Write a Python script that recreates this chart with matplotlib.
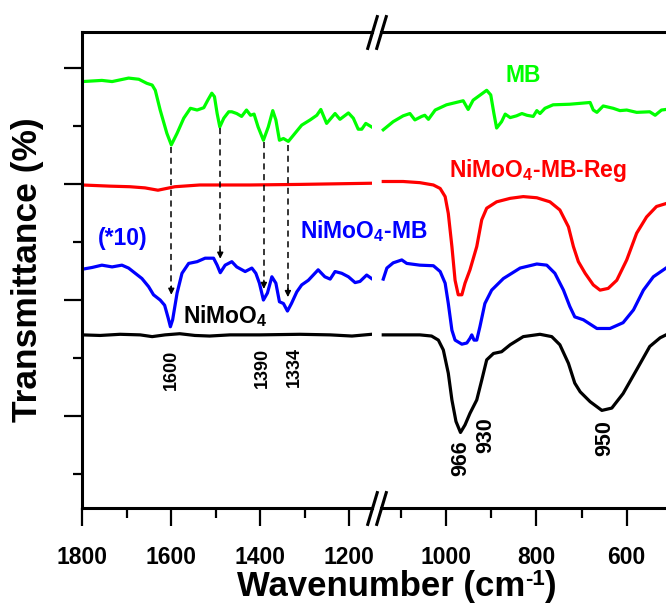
import numpy as np
import matplotlib
matplotlib.use("Agg")
import matplotlib.pyplot as plt
import matplotlib.ticker as ticker

plt.rcParams['font.family'] = ['Liberation Sans', 'DejaVu Sans']
plt.rcParams['mathtext.fontset'] = 'custom'
plt.rcParams['mathtext.rm'] = 'Liberation Sans:bold'
plt.rcParams['mathtext.it'] = 'Liberation Sans:bold'
plt.rcParams['mathtext.bf'] = 'Liberation Sans:bold'

W, H, DPI = 666, 603, 100

# ── data (wavenumber cm-1, stacked transmittance, arbitrary units) ──
# left part: 1800 - 1150
mb_wn_l = [1800, 1756, 1733, 1696, 1673, 1655, 1643, 1636, 1625, 1610, 1600, 1587,
           1572, 1557, 1542, 1527, 1518, 1509, 1503, 1497, 1491, 1482, 1471, 1464,
           1453, 1442, 1431, 1422, 1414, 1405, 1393, 1382, 1372, 1365, 1357, 1348,
           1337, 1322, 1307, 1288, 1273, 1264, 1251, 1232, 1221, 1202, 1191, 1180,
           1172, 1163, 1150]
mb_t_l = [6.76, 6.78, 6.76, 6.82, 6.80, 6.73, 6.70, 6.61, 6.27, 5.87, 5.67, 5.87,
          6.13, 6.30, 6.27, 6.31, 6.44, 6.56, 6.50, 6.21, 5.98, 6.13, 6.24, 6.24,
          6.21, 6.16, 6.27, 6.18, 6.20, 5.98, 5.75, 5.98, 6.26, 6.10, 5.75, 5.78,
          5.73, 5.87, 6.01, 6.10, 6.18, 6.28, 6.04, 6.21, 6.11, 6.22, 6.13, 5.94,
          5.94, 6.04, 5.98]

reg_wn_l = [1800, 1738, 1693, 1659, 1630, 1592, 1536, 1423, 1311, 1150]
reg_t_l = [4.98, 4.96, 4.95, 4.93, 4.89, 4.95, 4.98, 4.98, 4.99, 5.01]

mbn_wn_l = [1800, 1778, 1756, 1733, 1711, 1696, 1681, 1666, 1651, 1640, 1625, 1615,
            1607, 1602, 1597, 1587, 1576, 1561, 1542, 1524, 1505, 1497, 1490, 1479,
            1464, 1453, 1434, 1419, 1410, 1402, 1393, 1384, 1374, 1365, 1357, 1348,
            1339, 1330, 1318, 1307, 1292, 1281, 1270, 1255, 1243, 1232, 1217, 1202,
            1187, 1176, 1161, 1150]
mbn_t_l = [3.53, 3.56, 3.60, 3.57, 3.60, 3.55, 3.46, 3.37, 3.23, 3.09, 3.00, 2.91,
           2.69, 2.54, 2.66, 3.12, 3.46, 3.63, 3.66, 3.72, 3.72, 3.60, 3.47, 3.60,
           3.66, 3.57, 3.49, 3.55, 3.46, 3.29, 3.00, 3.12, 3.40, 3.29, 2.97, 2.94,
           2.81, 2.94, 3.14, 3.26, 3.34, 3.43, 3.52, 3.40, 3.36, 3.49, 3.46, 3.40,
           3.30, 3.32, 3.43, 3.37]

ni_wn_l = [1800, 1760, 1715, 1670, 1643, 1614, 1581, 1547, 1514, 1468, 1401, 1311,
           1243, 1194, 1150]
ni_t_l = [2.40, 2.39, 2.41, 2.40, 2.37, 2.40, 2.42, 2.39, 2.38, 2.40, 2.40, 2.41,
          2.40, 2.38, 2.41]

# right part: 1140 - 513
mb_wn_r = [1139, 1117, 1095, 1080, 1069, 1054, 1047, 1039, 1024, 999, 962, 951,
           940, 910, 901, 894, 888, 877, 869, 858, 844, 832, 821, 807, 799, 792,
           781, 763, 726, 681, 674, 666, 652, 630, 615, 600, 578, 549, 537, 523, 513]
mb_t_r = [5.93, 6.07, 6.17, 6.21, 6.10, 6.16, 6.18, 6.11, 6.27, 6.36, 6.43, 6.28,
          6.44, 6.61, 6.53, 6.21, 5.96, 6.07, 6.20, 6.14, 6.17, 6.21, 6.18, 6.16,
          6.26, 6.21, 6.30, 6.36, 6.37, 6.40, 6.27, 6.23, 6.34, 6.30, 6.26, 6.27,
          6.23, 6.24, 6.18, 6.27, 6.28]

reg_wn_r = [1139, 1095, 1058, 1028, 1013, 1002, 995, 987, 980, 973, 965, 958, 947,
            932, 921, 910, 888, 858, 829, 799, 770, 748, 729, 718, 707, 692, 674,
            659, 641, 622, 600, 578, 556, 534, 513]
reg_t_r = [5.04, 5.04, 5.02, 4.98, 4.92, 4.78, 4.49, 3.92, 3.34, 3.09, 3.09, 3.29,
           3.52, 3.92, 4.38, 4.58, 4.69, 4.75, 4.78, 4.76, 4.69, 4.55, 4.26, 3.92,
           3.66, 3.46, 3.26, 3.17, 3.20, 3.34, 3.69, 4.15, 4.43, 4.61, 4.66]

mbn_wn_r = [1139, 1131, 1117, 1098, 1087, 1058, 1028, 1013, 1002, 995, 987, 980,
            965, 954, 947, 943, 938, 932, 925, 914, 899, 873, 836, 799, 777, 759,
            740, 726, 715, 696, 666, 637, 608, 585, 563, 541, 513]
mbn_t_r = [3.36, 3.55, 3.64, 3.69, 3.63, 3.60, 3.59, 3.49, 3.29, 2.94, 2.48, 2.31,
           2.24, 2.26, 2.34, 2.40, 2.31, 2.31, 2.54, 2.94, 3.17, 3.37, 3.55, 3.62,
           3.60, 3.46, 3.17, 2.89, 2.71, 2.66, 2.51, 2.51, 2.61, 2.83, 3.17, 3.40,
           3.55]

ni_wn_r = [1139, 1058, 1032, 1017, 1006, 995, 987, 978, 968, 958, 947, 932, 921,
           910, 895, 877, 858, 829, 792, 766, 748, 729, 715, 703, 681, 655, 633,
           608, 578, 549, 526, 513]
ni_t_r = [2.40, 2.40, 2.38, 2.31, 2.14, 1.74, 1.28, 0.91, 0.72, 0.85, 1.05, 1.28,
          1.62, 1.97, 2.08, 2.11, 2.23, 2.37, 2.41, 2.37, 2.23, 1.91, 1.57, 1.42,
          1.25, 1.10, 1.14, 1.39, 1.80, 2.20, 2.35, 2.40]

# arrows MB -> NiMoO4-MB (wavenumber, start, tip)
arrow_wn = [1600, 1490, 1392, 1338]
arrow_start = [5.63, 5.96, 5.72, 5.67]
arrow_tip = [3.09, 3.71, 3.19, 3.05]

# peak labels
peak_left = [("1600", 1599, 2.14), ("1390", 1395, 2.17), ("1334", 1324, 2.19)]
peak_right = [("966", 967, 0.59), ("930", 912, 0.99), ("950", 648, 0.94)]

GREEN, RED, BLUE, BLACK = '#00ff00', '#ff0000', '#0000ff', '#000000'
LW = 2.3

YLIM = (-0.585, 7.608)

fig = plt.figure(figsize=(W / DPI, H / DPI), dpi=DPI)
y0 = 1 - 508.3 / H
hh = (508.3 - 32.3) / H
ax_l = fig.add_axes([82.3 / W, y0, (372 - 82.3) / W, hh])
ax_r = fig.add_axes([381 / W, y0, (666 - 381) / W, hh])

for ax in (ax_l, ax_r):
    ax.set_ylim(*YLIM)
    ax.patch.set_visible(False)
    for sp in ax.spines.values():
        sp.set_linewidth(2.2)
    ax.spines['right'].set_visible(False)
    ax.tick_params(axis='x', which='major', direction='out', length=13, width=1.6,
                   labelsize=16.5, pad=14)
    ax.tick_params(axis='x', which='minor', direction='out', length=7, width=1.6)
    ax.tick_params(axis='x', top=False)

ax_l.set_xlim(1800, 1149)
ax_r.set_xlim(1144, 513)
ax_l.xaxis.set_major_locator(ticker.MultipleLocator(200))
ax_l.xaxis.set_minor_locator(ticker.MultipleLocator(100))
ax_r.xaxis.set_major_locator(ticker.MultipleLocator(200))
ax_r.xaxis.set_minor_locator(ticker.MultipleLocator(100))

ax_l.yaxis.set_major_locator(ticker.FixedLocator([1, 3, 5, 7]))
ax_l.yaxis.set_minor_locator(ticker.FixedLocator([0, 2, 4, 6]))
ax_l.tick_params(axis='y', which='major', direction='out', length=13, width=1.6,
                 labelleft=False)
ax_l.tick_params(axis='y', which='minor', direction='out', length=6.5, width=1.6)
ax_r.spines['left'].set_visible(False)
ax_r.tick_params(axis='y', which='both', left=False, labelleft=False)

for lab in ax_l.get_xticklabels() + ax_r.get_xticklabels():
    lab.set_fontweight('bold')

# spectra
ax_l.plot(mb_wn_l, mb_t_l, color=GREEN, lw=LW)
ax_l.plot(reg_wn_l, reg_t_l, color=RED, lw=LW)
ax_l.plot(mbn_wn_l, mbn_t_l, color=BLUE, lw=LW)
ax_l.plot(ni_wn_l, ni_t_l, color=BLACK, lw=LW)
ax_r.plot(mb_wn_r, mb_t_r, color=GREEN, lw=LW)
ax_r.plot(reg_wn_r, reg_t_r, color=RED, lw=LW)
ax_r.plot(mbn_wn_r, mbn_t_r, color=BLUE, lw=LW)
ax_r.plot(ni_wn_r, ni_t_r, color=BLACK, lw=LW)

# dashed arrows
for wn, ys, yt in zip(arrow_wn, arrow_start, arrow_tip):
    ax_l.plot([wn, wn], [ys, yt + 0.1], color='k', lw=1.1, ls=(0, (4, 3)))
    ax_l.annotate('', xy=(wn, yt), xytext=(wn, yt + 0.15),
                  arrowprops=dict(arrowstyle='-|>', color='k', lw=1,
                                  mutation_scale=9, shrinkA=0, shrinkB=0))

# peak labels
for txt, wn, yy in peak_left:
    ax_l.text(wn, yy, txt, rotation=90, ha='center', va='top', fontsize=13,
              fontweight='bold')
for txt, wn, yy in peak_right:
    ax_r.text(wn, yy, txt, rotation=90, ha='center', va='top', fontsize=15.5,
              fontweight='bold')

# series labels
ax_r.text(829, 6.76, 'MB', color=GREEN, fontsize=16.5, fontweight='bold',
          ha='center', va='baseline')
ax_r.text(993, 5.12, r'NiMoO$_4$-MB-Reg', color=RED, fontsize=16.5,
          fontweight='bold', ha='left', va='baseline')
ax_l.text(1311, 4.06, r'NiMoO$_4$-MB', color=BLUE, fontsize=16.5,
          fontweight='bold', ha='left', va='baseline', zorder=10)
ax_l.text(1766, 3.95, '(*10)', color=BLUE, fontsize=16.5, fontweight='bold',
          ha='left', va='baseline')
ax_l.text(1573, 2.60, r'NiMoO$_4$', color=BLACK, fontsize=16.5,
          fontweight='bold', ha='left', va='baseline')

# axis break marks
d = 0.3
brk = dict(marker=[(-d, -1), (d, 1)], markersize=25, linestyle='none',
           color='k', mec='k', mew=2.2, clip_on=False)
ax_l.plot([1, 1], [0, 1], transform=ax_l.transAxes, **brk)
ax_r.plot([0, 0], [0, 1], transform=ax_r.transAxes, **brk)

# axis titles
fig.text(28 / W, 1 - 270 / H, 'Transmittance (%)', rotation=90, ha='center',
         va='center', fontsize=25.5, fontweight='bold')

# x title built in pieces so the superscript sits low like the original
renderer = fig.canvas.get_renderer()
xl_fs, sup_fs = 25, 16
base_y = 1 - 596 / H
parts = [('Wavenumber (cm', xl_fs, 0), ('-1', sup_fs, 11), (')', xl_fs, 0)]
texts = [fig.text(0, base_y, s, fontsize=fs, fontweight='bold', ha='left',
                  va='baseline') for s, fs, _ in parts]
widths = [t.get_window_extent(renderer).width for t in texts]
x = 397 - sum(widths) / 2
for t, w, (_, _, rise) in zip(texts, widths, parts):
    t.set_position((x / W, base_y + rise / H))
    x += w

fig.savefig('out.png', dpi=DPI)
